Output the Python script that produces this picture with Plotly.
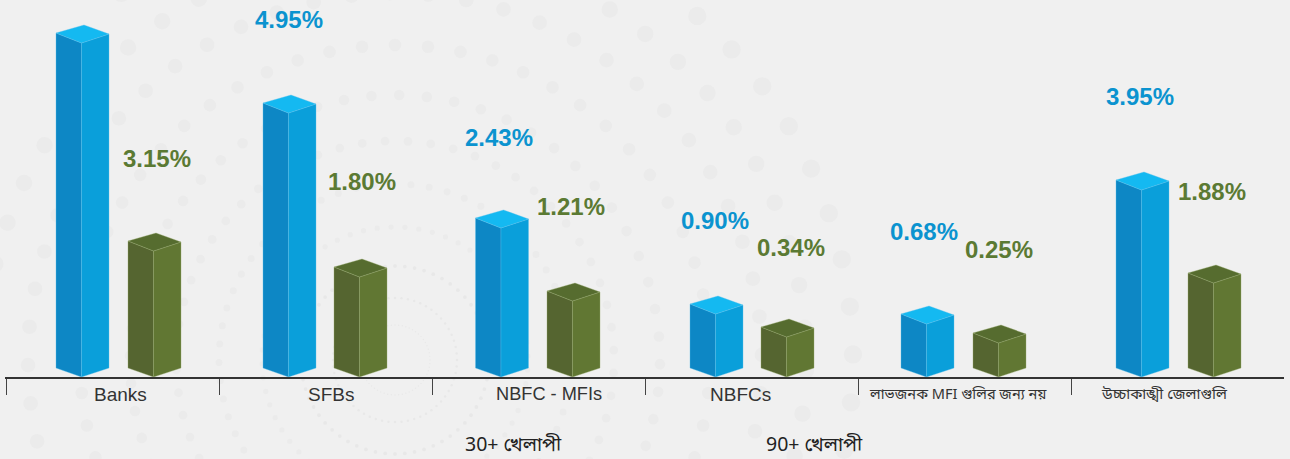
import numpy as np
import plotly.graph_objects as go

# ---- data ----
categories = ["Banks", "SFBs", "NBFC - MFIs", "NBFCs",
              "লাভজনক MFI গুলির জন্য নয়", "উচ্চাকাঙ্খী জেলাগুলি"]
# bar heights as drawn, in axis units
blue_heights = [334, 264, 149, 63, 53, 187]
green_heights = [126, 100, 76, 40, 34, 94]
# printed labels
blue_labels = [None, "4.95%", "2.43%", "0.90%", "0.68%", "3.95%"]
green_labels = ["3.15%", "1.80%", "1.21%", "0.34%", "0.25%", "1.88%"]
legend_labels = ["30+ খেলাপী", "90+ খেলাপী"]

# ---- layout constants ----
W, H = 1290, 459
BASE = 377
blue_left = [56, 263, 475.5, 690, 901, 1116]
green_left = [128, 334, 547, 761, 973, 1188]
boundaries = [6.3, 219.3, 432.3, 645, 858, 1071.3]
blue_label_xy = [None, (289, 19), (499, 137), (715, 220), (924, 231), (1140, 96)]
green_label_xy = [(156.5, 158.5), (361.5, 181), (571, 206), (790.5, 247), (998.5, 249), (1212, 191)]
cat_label_xy = [(120.5, 394), (331, 394), (549, 394), (740, 394), (957.5, 395), (1164, 395)]
cat_label_size = [19, 19, 18.2, 19, 14.6, 15]
legend_xy = [(513, 445.5), (814, 445.5)]
FONT = "Liberation Sans, Arial, sans-serif"
BN_FONT = "Noto Sans Bengali, Noto Sans, Liberation Sans, sans-serif"
BLUE_TXT, GREEN_TXT = "#0b93cf", "#5b7a33"

fig = go.Figure()

# ---- decorative background: concentric dotted rings (not data) ----
cx, cy = 395, 360
rings = [(35, 0), (62, 0), (94, 0), (133, 4.3), (176, 5.2), (219, 3.4), (265, 0.9),
         (315, 0), (367, 5.2), (411, 1.5), (458, 5.3)]
for R, off in rings:
    th = np.radians(np.arange(0, 360, 6) + off)
    x = cx + R * np.sin(th)
    y = cy - R * np.cos(th)
    if R == 458:
        keep = x > 100
        x, y = x[keep], y[keep]
    fig.add_trace(go.Scatter(
        x=x, y=y, mode="markers", xaxis="x", yaxis="y", hoverinfo="skip", showlegend=False,
        marker=dict(size=R / 25, color="#ebebeb" if R > 100 else "#e8e8e8", line=dict(width=0))))


def polys(lefts, heights, face):
    xs, ys = [], []
    for L, h in zip(lefts, heights):
        F, Rt, Bk = L + 25.5, L + 53, L + 28
        if face == "left":
            px = [L, F, F, L, L]
            py = [9, 0, h, h + 10, 9]
        elif face == "right":
            px = [F, Rt, Rt, F, F]
            py = [0, 9, h + 9, h, 0]
        else:
            px = [L, Bk, Rt, F, L]
            py = [h + 10, h + 18, h + 9, h, h + 10]
        xs += px + [None]
        ys += py + [None]
    return xs, ys


def add_faces(name, lefts, heights, colors, edge):
    for face, col in zip(("left", "right", "top"), colors):
        x, y = polys(lefts, heights, face)
        fig.add_trace(go.Scatter(
            x=x, y=y, mode="lines", fill="toself", fillcolor=col, name=name,
            line=dict(color=edge, width=0.6), xaxis="x2", yaxis="y2",
            hoverinfo="skip", showlegend=False))


add_faces("30+", blue_left, blue_heights, ("#0d87c5", "#0a9fda", "#14b9f1"), "rgba(90,190,235,0.6)")
add_faces("90+", green_left, green_heights, ("#556530", "#617733", "#566c2f"), "rgba(150,170,110,0.6)")

# ---- text ----
ann = []


def add_text(x, y, text, size, color, family, bold=False):
    ann.append(dict(x=x, y=y, xref="x", yref="y", text=f"<b>{text}</b>" if bold else text,
                    showarrow=False, xanchor="center", yanchor="middle",
                    font=dict(size=size, color=color, family=family)))


for lab, xy in zip(blue_labels, blue_label_xy):
    if lab:
        add_text(xy[0], xy[1], lab, 24, BLUE_TXT, FONT, True)
for lab, xy in zip(green_labels, green_label_xy):
    add_text(xy[0], xy[1], lab, 24, GREEN_TXT, FONT, True)
for lab, xy, s in zip(categories, cat_label_xy, cat_label_size):
    add_text(xy[0], xy[1], lab, s, "#333333", BN_FONT if s < 18 else FONT)
for lab, xy in zip(legend_labels, legend_xy):
    add_text(xy[0], xy[1], lab, 19.5, "#222222", BN_FONT)

fig.update_layout(
    width=W, height=H, margin=dict(l=0, r=0, t=0, b=0, pad=0), autosize=False,
    paper_bgcolor="#f0f0f0", plot_bgcolor="rgba(0,0,0,0)", showlegend=False,
    annotations=ann,
    xaxis=dict(domain=[0, 1], range=[0, W], visible=False, fixedrange=True),
    yaxis=dict(domain=[0, 1], range=[H, 0], visible=False, fixedrange=True),
    xaxis2=dict(domain=[5 / W, 1284 / W], range=[5, 1284], anchor="y2", fixedrange=True,
                showgrid=False, zeroline=False, showline=True, linecolor="#333333", linewidth=1.5,
                tickmode="array", tickvals=boundaries, ticktext=[""] * 6,
                ticks="outside", ticklen=16, tickwidth=1.3, tickcolor="#444444"),
    yaxis2=dict(domain=[(H - BASE) / H, 1], range=[0, BASE], anchor="x2", visible=False, fixedrange=True),
)

fig.write_html("out.html", config=dict(displayModeBar=False),
               post_script="document.body.style.margin='0';document.body.style.overflow='hidden';")
